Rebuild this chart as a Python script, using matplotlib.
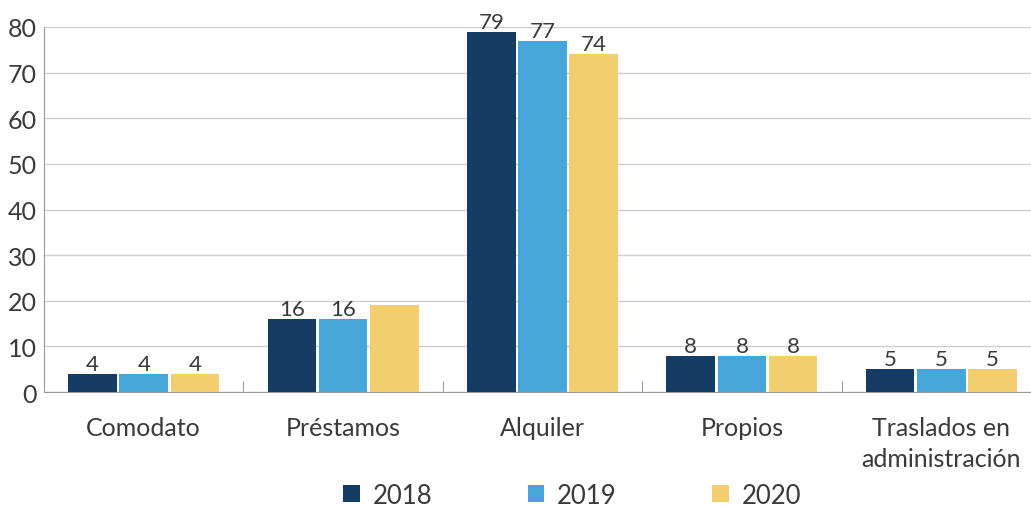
import numpy as np
import matplotlib.pyplot as plt

plt.rcParams['font.family'] = ['Lato', 'DejaVu Sans']

categorias = ['Comodato', 'Préstamos', 'Alquiler', 'Propios', 'Traslados en\nadministración']
anios = ['2018', '2019', '2020']
v2018 = [4, 16, 79, 8, 5]
v2019 = [4, 16, 77, 8, 5]
v2020 = [4, 19, 74, 8, 5]
etiquetas2020 = ['4', '', '74', '8', '5']
colores = ['#143C64', '#46A6DA', '#F2CE6E']

fig = plt.figure(figsize=(10.31, 5.10), dpi=100)
ax = fig.add_axes([0.0427, 0.2294, 0.967, 0.7157])

x = np.arange(len(categorias))
w = 0.257
series = [v2018, v2019, v2020]
for i, (vals, col, anio) in enumerate(zip(series, colores, anios)):
    bars = ax.bar(x + (i - 1) * w, vals, width=w * 0.95, color=col, label=anio, zorder=3)
    labs = etiquetas2020 if i == 2 else [str(v) for v in vals]
    ax.bar_label(bars, labels=labs, padding=0, fontsize=16, color='#3a3a3a')

ax.set_xlim(-0.5, len(categorias) - 0.5)
ax.set_ylim(0, 80)
ax.set_yticks(range(0, 81, 10))
ax.yaxis.grid(True, color='#d0d0d0', linewidth=1, zorder=0)
ax.set_xticks(x)
ax.set_xticklabels(categorias, fontsize=18, color='#3a3a3a', linespacing=1.45)
ax.set_xticks(np.arange(0.5, len(categorias) - 0.5), minor=True)
ax.tick_params(axis='x', which='major', length=0, pad=17)
ax.tick_params(axis='x', which='minor', length=8, direction='in', color='#888888')
ax.tick_params(axis='y', length=0, labelsize=18, labelcolor='#3a3a3a', pad=5)
for s in ['top', 'right']:
    ax.spines[s].set_visible(False)
ax.spines['left'].set_color('#999999')
ax.spines['bottom'].set_color('#999999')

fig.legend(loc='lower center', bbox_to_anchor=(0.555, -0.038), ncol=3, frameon=False,
           fontsize=18.5, handlelength=0.65, handleheight=0.65, columnspacing=3.7,
           handletextpad=0.5, labelcolor='#3a3a3a', borderpad=0.3)

fig.savefig('out.png', dpi=100)
